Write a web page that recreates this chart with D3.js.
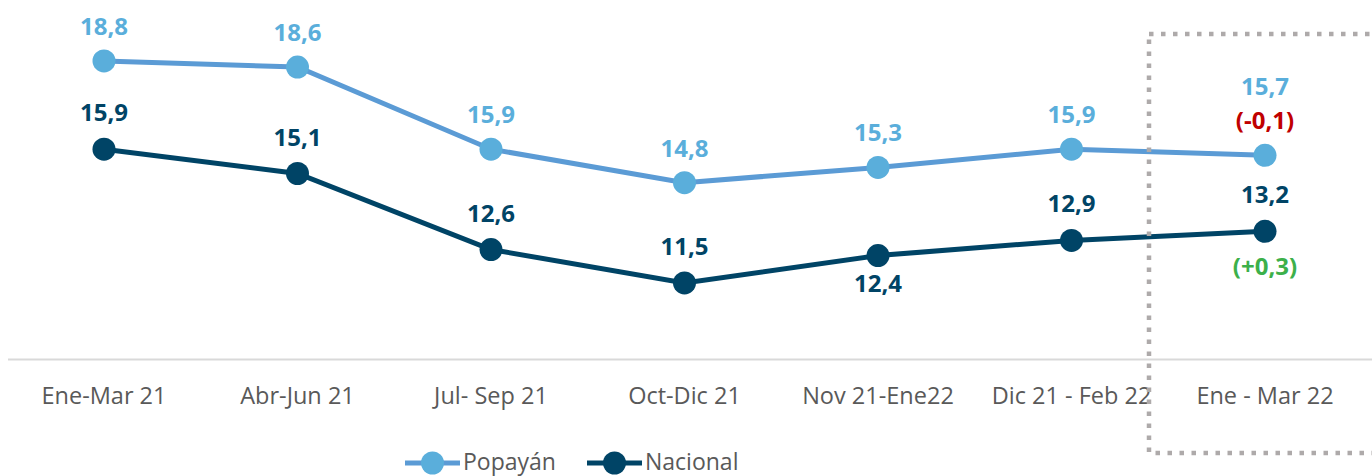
<!DOCTYPE html>
<html>
<head>
<meta charset="utf-8">
<script src="https://cdn.jsdelivr.net/npm/d3@7"></script>
<style>
  body { margin: 0; background: #fff; }
  svg text { font-family: "Open Sans", sans-serif; }
</style>
</head>
<body>
<div id="chart"></div>
<script>
let categories = ["Ene-Mar 21", "Abr-Jun 21", "Jul- Sep 21", "Oct-Dic 21", "Nov 21-Ene22", "Dic 21 - Feb 22", "Ene - Mar 22"];
let popayan = [18.8, 18.6, 15.9, 14.8, 15.3, 15.9, 15.7];
let nacional = [15.9, 15.1, 12.6, 11.5, 12.4, 12.9, 13.2];
// label below the point for these indices
let nacionalBelow = [4];
let popayanDelta = "(-0,1)";
let nacionalDelta = "(+0,3)";

let width = 1372, height = 476;
let fmt = v => String(v.toFixed(1)).replace(".", ",");

let svg = d3.select("#chart").append("svg")
  .attr("width", width)
  .attr("height", height);

let x = d3.scalePoint().domain(categories).range([104, 1265]);
let y = d3.scaleLinear().domain([9, 20]).range([359, 24.5]);

// base axis line
svg.append("line")
  .attr("x1", 8).attr("x2", width)
  .attr("y1", 359.5).attr("y2", 359.5)
  .attr("stroke", "#d9d9d9").attr("stroke-width", 2);

// category labels
svg.selectAll(".cat")
  .data(categories).enter()
  .append("text")
  .attr("class", "cat")
  .attr("x", d => x(d))
  .attr("y", 404)
  .attr("text-anchor", "middle")
  .attr("font-size", 23.5)
  .attr("fill", "#595959")
  .text(d => d);

let series = [
  { name: "Popayán", values: popayan, line: "#5b9bd5", dot: "#5aaedb" },
  { name: "Nacional", values: nacional, line: "#004466", dot: "#004466" }
];

let line = d3.line()
  .x((d, i) => x(categories[i]))
  .y(d => y(d));

series.forEach(s => {
  svg.append("path")
    .datum(s.values)
    .attr("d", line)
    .attr("fill", "none")
    .attr("stroke", s.line)
    .attr("stroke-width", 5);
  svg.selectAll(".dot-" + s.name)
    .data(s.values).enter()
    .append("circle")
    .attr("cx", (d, i) => x(categories[i]))
    .attr("cy", d => y(d))
    .attr("r", 11.5)
    .attr("fill", s.dot);
});

let last = categories.length - 1;

// value labels
svg.selectAll(".lab-p")
  .data(popayan).enter()
  .append("text")
  .attr("x", (d, i) => x(categories[i]))
  .attr("y", (d, i) => i == last ? y(d) - 60 : y(d) - 26)
  .attr("text-anchor", "middle")
  .attr("font-size", 24)
  .attr("font-weight", "bold")
  .attr("fill", "#5aaedb")
  .text(d => fmt(d));

svg.selectAll(".lab-n")
  .data(nacional).enter()
  .append("text")
  .attr("x", (d, i) => x(categories[i]))
  .attr("y", (d, i) => nacionalBelow.includes(i) ? y(d) + 36 : y(d) - 28)
  .attr("text-anchor", "middle")
  .attr("font-size", 24)
  .attr("font-weight", "bold")
  .attr("fill", "#004466")
  .text(d => fmt(d));

// change annotations for the last period
svg.append("text")
  .attr("x", x(categories[last]))
  .attr("y", y(popayan[last]) - 26)
  .attr("text-anchor", "middle")
  .attr("font-size", 24).attr("font-weight", "bold")
  .attr("fill", "#c00000")
  .text(popayanDelta);
svg.append("text")
  .attr("x", x(categories[last]))
  .attr("y", y(nacional[last]) + 44)
  .attr("text-anchor", "middle")
  .attr("font-size", 24).attr("font-weight", "bold")
  .attr("fill", "#3cb04a")
  .text(nacionalDelta);

// dotted highlight box
svg.append("rect")
  .attr("x", 1149).attr("y", 34)
  .attr("width", 240).attr("height", 419)
  .attr("fill", "none")
  .attr("stroke", "#aeaaaa")
  .attr("stroke-width", 4.5)
  .attr("stroke-dasharray", "4.5 7.5");

// legend
let legend = svg.append("g");
let legX = [405, 587];
series.forEach((s, i) => {
  let g = legend.append("g").attr("transform", `translate(${legX[i]},463)`);
  g.append("line").attr("x1", 0).attr("x2", 55).attr("y1", 0).attr("y2", 0)
    .attr("stroke", s.line).attr("stroke-width", 5);
  g.append("circle").attr("cx", 27.5).attr("cy", 0).attr("r", 11.5).attr("fill", s.dot);
  g.append("text").attr("x", 58).attr("y", 6.5)
    .attr("font-size", 23).attr("fill", "#595959").text(s.name);
});
</script>
</body>
</html>
